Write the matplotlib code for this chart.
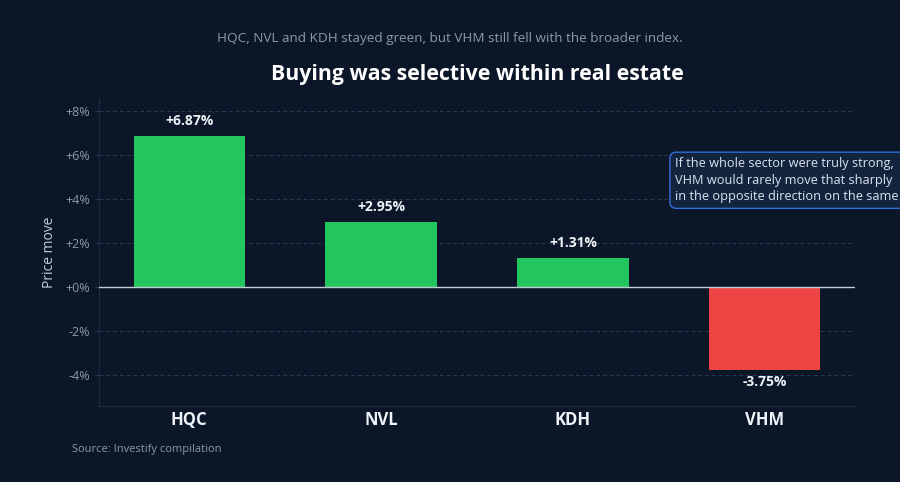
import matplotlib

matplotlib.use("Agg")
import matplotlib.pyplot as plt
from matplotlib.ticker import FuncFormatter

plt.rcParams["font.family"] = ["Open Sans", "DejaVu Sans"]

FONDO = "#0b1628"
VERDE = "#22c55e"
ROJO = "#ef4444"
TEXTO = "#eef2f7"
GRIS = "#8d98a8"

tickers = ["HQC", "NVL", "KDH", "VHM"]
variacion = [6.87, 2.95, 1.31, -3.75]
marcas_y = [-4, -2, 0, 2, 4, 6, 8]

fig = plt.figure(figsize=(9, 4.82), dpi=100, facecolor=FONDO)
ax = fig.add_axes([0.11, 0.158, 0.84, 0.639], facecolor=FONDO)

colores = [VERDE if v >= 0 else ROJO for v in variacion]
barras = ax.bar(tickers, variacion, width=0.58, color=colores, zorder=3)

for barra, v in zip(barras, variacion):
    x = barra.get_x() + barra.get_width() / 2
    if v >= 0:
        ax.annotate(f"+{v:.2f}%", (x, v), xytext=(0, 6), textcoords="offset points",
                    ha="center", va="bottom", color=TEXTO, fontsize=10, fontweight="bold")
    else:
        ax.annotate(f"{v:.2f}%", (x, v), xytext=(0, -4), textcoords="offset points",
                    ha="center", va="top", color=TEXTO, fontsize=10, fontweight="bold")

ax.set_ylim(-5.4, 8.6)
ax.set_xlim(-0.47, 3.47)
ax.set_yticks(marcas_y)
ax.yaxis.set_major_formatter(FuncFormatter(lambda v, _: f"{v:+.0f}%" if v != 0 else "+0%"))
ax.grid(axis="y", color="#2a3950", linestyle=(0, (4, 3)), linewidth=0.7, zorder=0)
ax.axhline(0, color="#c4ccd8", linewidth=1, zorder=4)

ax.tick_params(axis="y", colors=GRIS, labelsize=9, length=3, color="#2a3950")
ax.tick_params(axis="x", colors=TEXTO, labelsize=12, length=0, pad=4)
for etiqueta in ax.get_xticklabels():
    etiqueta.set_fontweight("bold")
ax.set_ylabel("Price move", color="#c4ccd8", fontsize=10, labelpad=6)

for lado in ["top", "right"]:
    ax.spines[lado].set_visible(False)
for lado in ["left", "bottom"]:
    ax.spines[lado].set_color("#1f2c40")

fig.text(0.5, 0.921, "HQC, NVL and KDH stayed green, but VHM still fell with the broader index.",
         ha="center", va="center", color=GRIS, fontsize=9.7)
fig.text(0.53, 0.845, "Buying was selective within real estate",
         ha="center", va="center", color="white", fontsize=15.3, fontweight="bold")
fig.text(0.08, 0.068, "Source: Investify compilation", ha="left", va="center",
         color=GRIS, fontsize=8)

fig.text(0.75, 0.626,
         "If the whole sector were truly strong,\n"
         "VHM would rarely move that sharply\n"
         "in the opposite direction on the same day.",
         ha="left", va="center", color="#dbe3ee", fontsize=9.2, linespacing=1.35,
         bbox=dict(boxstyle="round,pad=0.4,rounding_size=0.5", facecolor="#13243f",
                   edgecolor="#2f6fd6", linewidth=1))

fig.savefig("out.png", dpi=100, facecolor=FONDO)
